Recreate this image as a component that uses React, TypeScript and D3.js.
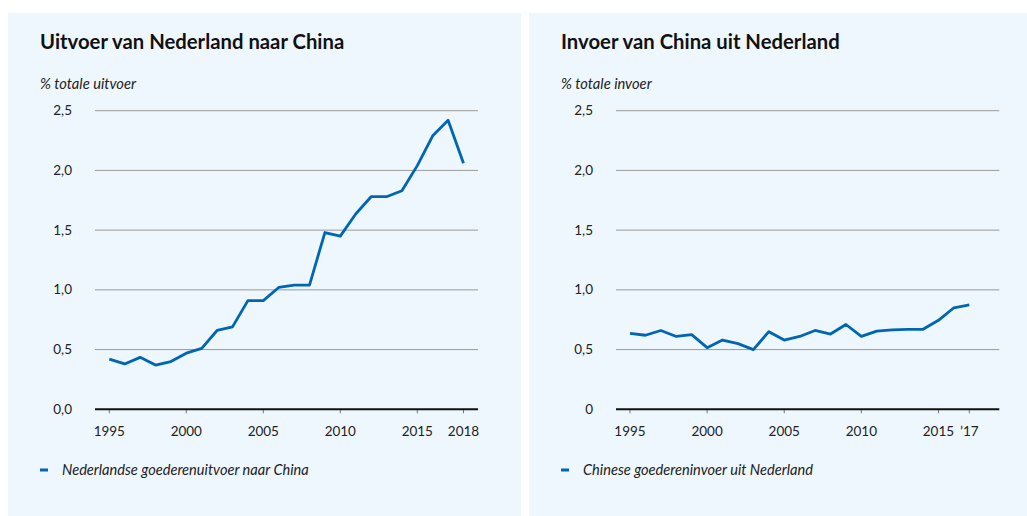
import React from "react";
import * as d3 from "d3";

// jaren en waarden (aandeel in %)
const exportYears = d3.range(1995, 2019);
const exportValues = [
  0.42, 0.38, 0.435, 0.37, 0.4, 0.47, 0.51, 0.66, 0.69, 0.91, 0.91, 1.02,
  1.04, 1.04, 1.48, 1.45, 1.635, 1.78, 1.78, 1.83, 2.04, 2.29, 2.42, 2.06,
];
const importYears = d3.range(1995, 2018);
const importValues = [
  0.636, 0.62, 0.66, 0.61, 0.625, 0.516, 0.58, 0.55, 0.5, 0.65, 0.58, 0.61,
  0.66, 0.63, 0.71, 0.61, 0.655, 0.665, 0.67, 0.67, 0.745, 0.85, 0.875,
];
const yTicks = [0, 0.5, 1, 1.5, 2, 2.5];
const exportXTicks = [1995, 2000, 2005, 2010, 2015, 2018];
const exportXLabels = ["1995", "2000", "2005", "2010", "2015", "2018"];
const importXTicks = [1995, 2000, 2005, 2010, 2015, 2017];
const importXLabels = ["1995", "2000", "2005", "2010", "2015", "\u201917"];

const FONT = "Lato, 'Open Sans', sans-serif";
const BG = "#eef7fd";
const LINE = "#0066b3";

const fmt = (v: number) => v.toFixed(1).replace(".", ",");

type PanelProps = {
  x0: number;
  width: number;
  title: string;
  unit: string;
  legend: string;
  years: number[];
  values: number[];
  xTicks: number[];
  xLabels: string[];
  xRange: [number, number];
  gridRange: [number, number];
  zeroLabel: string;
};

function Panel(p: PanelProps) {
  const y = d3.scaleLinear().domain([0, 2.5]).range([409.3, 110.7]);
  const x = d3
    .scaleLinear()
    .domain([p.years[0], p.years[p.years.length - 1]])
    .range(p.xRange);
  const line = d3
    .line<number>()
    .x((_, i) => x(p.years[i]))
    .y((d) => y(d));
  const [g0, g1] = p.gridRange;
  const labelX = g0 - 23;

  return (
    <g>
      <rect x={p.x0} y={13} width={p.width} height={503} fill={BG} />
      <text x={p.x0 + 32} y={49} fontSize={20.3} fontWeight={700} fill="#111">
        {p.title}
      </text>
      <text x={p.x0 + 32} y={89} fontSize={14.7} fontStyle="italic" fill="#222">
        {p.unit}
      </text>
      {yTicks.map((t) => (
        <g key={t}>
          {t > 0 && (
            <line x1={g0} x2={g1} y1={y(t)} y2={y(t)} stroke="#9a9a9a" strokeWidth={1} />
          )}
          <text x={labelX} y={y(t) + 4.5} fontSize={13.5} textAnchor="end" fill="#222">
            {t === 0 ? p.zeroLabel : fmt(t)}
          </text>
        </g>
      ))}
      {p.xTicks.map((t, i) => (
        <g key={t}>
          <line x1={x(t)} x2={x(t)} y1={y(0)} y2={y(0) + 4} stroke="#777" strokeWidth={1} />
          <text x={x(t)} y={y(0) + 27} fontSize={13.5} textAnchor="middle" fill="#222">
            {p.xLabels[i]}
          </text>
        </g>
      ))}
      <line x1={g0} x2={g1} y1={y(0)} y2={y(0)} stroke="#111" strokeWidth={2} />
      <path
        d={line(p.values) || ""}
        fill="none"
        stroke={LINE}
        strokeWidth={2.8}
        strokeLinejoin="round"
      />
      <line x1={p.x0 + 32} x2={p.x0 + 40} y1={470} y2={470} stroke={LINE} strokeWidth={3} />
      <text x={p.x0 + 54} y={475} fontSize={14.6} fontStyle="italic" fill="#222">
        {p.legend}
      </text>
    </g>
  );
}

export default function App() {
  return (
    <svg
      width={1027}
      height={516}
      style={{ position: "absolute", left: 0, top: 0, fontFamily: FONT }}
    >
      <rect width={1027} height={516} fill="#fff" />
      <Panel
        x0={8}
        width={513}
        title="Uitvoer van Nederland naar China"
        unit="% totale uitvoer"
        legend="Nederlandse goederenuitvoer naar China"
        years={exportYears}
        values={exportValues}
        xTicks={exportXTicks}
        xLabels={exportXLabels}
        xRange={[109.3, 463.5]}
        gridRange={[95, 478]}
        zeroLabel="0,0"
      />
      <Panel
        x0={529}
        width={498}
        title="Invoer van China uit Nederland"
        unit="% totale invoer"
        legend="Chinese goedereninvoer uit Nederland"
        years={importYears}
        values={importValues}
        xTicks={importXTicks}
        xLabels={importXLabels}
        xRange={[630, 969.3]}
        gridRange={[616, 999.3]}
        zeroLabel="0"
      />
    </svg>
  );
}
